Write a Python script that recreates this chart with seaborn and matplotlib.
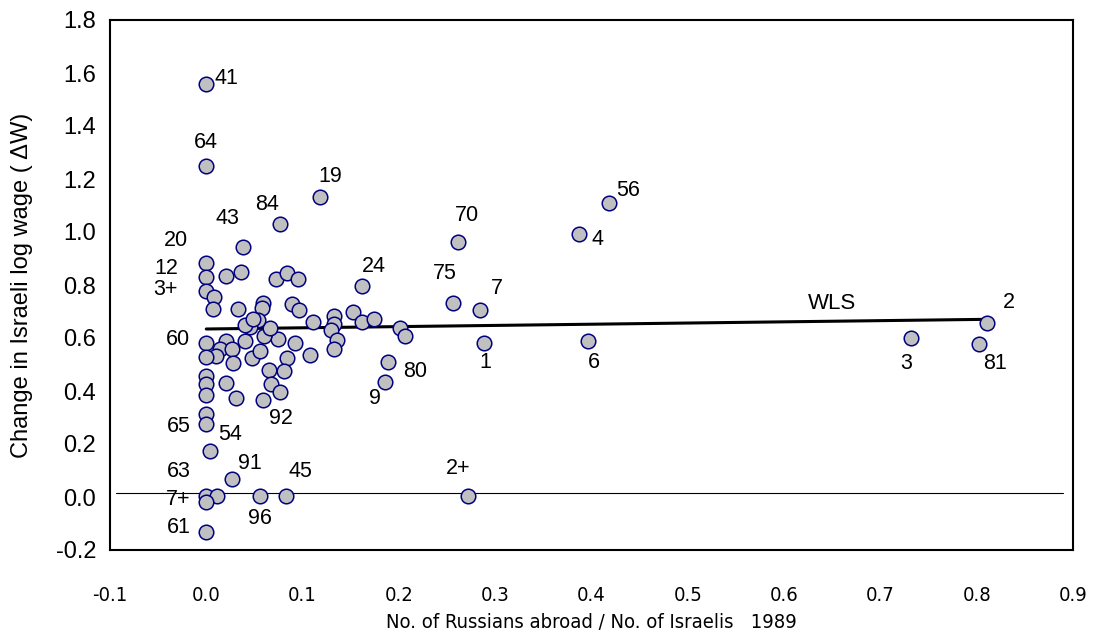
import matplotlib
matplotlib.use("Agg")
import matplotlib.pyplot as plt
import numpy as np
import pandas as pd
import seaborn as sns

# Russian emigrant share (x) versus change in Israeli log wage (y), by occupation
russians_ratio = [
    0.000, 0.000, 0.118, 0.077, 0.038, 0.261, 0.387, 0.418, 0.256, 0.284,
    0.288, 0.396, 0.811, 0.802, 0.732, 0.272, 0.000, 0.000, 0.020, 0.036,
    0.072, 0.084, 0.095, 0.000, 0.008, 0.007, 0.033, 0.059, 0.058, 0.089,
    0.096, 0.162, 0.111, 0.133, 0.133, 0.130, 0.152, 0.162, 0.174, 0.201,
    0.206, 0.136, 0.133, 0.189, 0.186, 0.108, 0.092, 0.074, 0.060, 0.066,
    0.054, 0.045, 0.040, 0.049, 0.040, 0.020, 0.014, 0.027, 0.000, 0.010,
    0.000, 0.028, 0.047, 0.056, 0.084, 0.065, 0.081, 0.067, 0.077, 0.020,
    0.000, 0.000, 0.000, 0.031, 0.059, 0.000, 0.000, 0.004, 0.027, 0.000,
    0.011, 0.000, 0.056, 0.083, 0.000,
]
wage_change = [
    1.558, 1.249, 1.132, 1.030, 0.945, 0.962, 0.991, 1.108, 0.731, 0.705,
    0.582, 0.590, 0.658, 0.576, 0.599, 0.004, 0.882, 0.831, 0.834, 0.848,
    0.824, 0.847, 0.823, 0.778, 0.754, 0.711, 0.711, 0.733, 0.713, 0.728,
    0.705, 0.795, 0.661, 0.683, 0.654, 0.630, 0.697, 0.660, 0.670, 0.638,
    0.608, 0.591, 0.557, 0.511, 0.433, 0.537, 0.580, 0.598, 0.606, 0.637,
    0.668, 0.641, 0.650, 0.670, 0.590, 0.588, 0.558, 0.558, 0.580, 0.531,
    0.529, 0.505, 0.526, 0.552, 0.526, 0.479, 0.474, 0.426, 0.396, 0.431,
    0.457, 0.425, 0.385, 0.375, 0.366, 0.312, 0.274, 0.174, 0.068, 0.004,
    0.004, -0.020, 0.003, 0.003, -0.133,
]

# Occupation code labels and where each is written (data units)
label_text = ["41", "64", "19", "84", "43", "20", "12", "3+", "24", "75",
              "70", "7", "56", "4", "1", "6", "80", "9", "60", "92",
              "65", "54", "63", "91", "45", "7+", "96", "61", "2+", "2",
              "3", "81"]
label_x = [0.021, 0.000, 0.129, 0.063, 0.022, -0.032, -0.042, -0.042, 0.174, 0.248,
           0.271, 0.302, 0.438, 0.406, 0.290, 0.402, 0.217, 0.175, -0.029, 0.077,
           -0.029, 0.025, -0.029, 0.045, 0.098, -0.029, 0.056, -0.029, 0.262, 0.833,
           0.727, 0.819]
label_y = [1.581, 1.337, 1.209, 1.102, 1.052, 0.967, 0.863, 0.784, 0.869, 0.844,
           1.064, 0.788, 1.158, 0.970, 0.507, 0.507, 0.473, 0.372, 0.595, 0.297,
           0.265, 0.234, 0.095, 0.127, 0.095, -0.011, -0.080, -0.114, 0.108, 0.733,
           0.505, 0.505]

# Weighted least squares fit and the zero-change reference line
wls_intercept = 0.634
wls_slope = 0.045
wls_x_range = [0.0, 0.805]
zero_line_y = 0.015
zero_line_x_range = [-0.094, 0.89]

x_ticks = [-0.1, 0.0, 0.1, 0.2, 0.3, 0.4, 0.5, 0.6, 0.7, 0.8, 0.9]
y_ticks = [-0.2, 0.0, 0.2, 0.4, 0.6, 0.8, 1.0, 1.2, 1.4, 1.6, 1.8]

df = pd.DataFrame({"ratio": russians_ratio, "dw": wage_change})

sns.set_theme(style="white")
plt.rcParams["font.family"] = ["Liberation Sans", "DejaVu Sans"]
plt.rcParams["text.color"] = "black"
plt.rcParams["axes.labelcolor"] = "black"
plt.rcParams["xtick.color"] = "black"
plt.rcParams["ytick.color"] = "black"

fig = plt.figure(figsize=(10.96, 6.41), dpi=100)
ax = fig.add_axes([110 / 1096, 1 - 550 / 641, 963 / 1096, 530 / 641])

# reference line at zero and the WLS fit, drawn beneath the markers
ax.plot(zero_line_x_range, [zero_line_y, zero_line_y], color="black", lw=0.8, zorder=1)
fit_x = np.array(wls_x_range)
ax.plot(fit_x, wls_intercept + wls_slope * fit_x, color="black", lw=2.2, zorder=1)

sns.scatterplot(data=df, x="ratio", y="dw", ax=ax, s=110, color="#c0c0c0",
                edgecolor="#000080", linewidth=1.1, zorder=3, legend=False)

for t, lx, ly in zip(label_text, label_x, label_y):
    ax.text(lx, ly, t, ha="center", va="center", fontsize=15.5, color="black",
            zorder=4)
ax.text(0.65, 0.732, "WLS", ha="center", va="center", fontsize=16, color="black")

ax.set_xlim(-0.1, 0.9)
ax.set_ylim(-0.2, 1.8)
ax.set_xticks(x_ticks)
ax.set_yticks(y_ticks)
ax.set_xticklabels([f"{v:.1f}" for v in x_ticks], fontfamily="DejaVu Sans",
                   fontstretch="condensed", fontsize=14.5)
ax.set_yticklabels([f"{v:.1f}" for v in y_ticks], fontsize=17)
ax.tick_params(direction="in", length=5.5, width=1, colors="black")
ax.tick_params(axis="y", pad=10)
ax.tick_params(axis="x", pad=26)

ax.set_xlabel("No. of Russians abroad / No. of Israelis   1989",
              fontfamily="DejaVu Sans", fontstretch="condensed", fontsize=14.5,
              labelpad=6)
ax.set_ylabel("Change in Israeli log wage ( \u0394W)", fontsize=17, labelpad=16)

for side in ["left", "bottom", "top", "right"]:
    ax.spines[side].set_visible(True)
    ax.spines[side].set_color("black")
    ax.spines[side].set_linewidth(1.5)

fig.savefig("out.png", dpi=100)
